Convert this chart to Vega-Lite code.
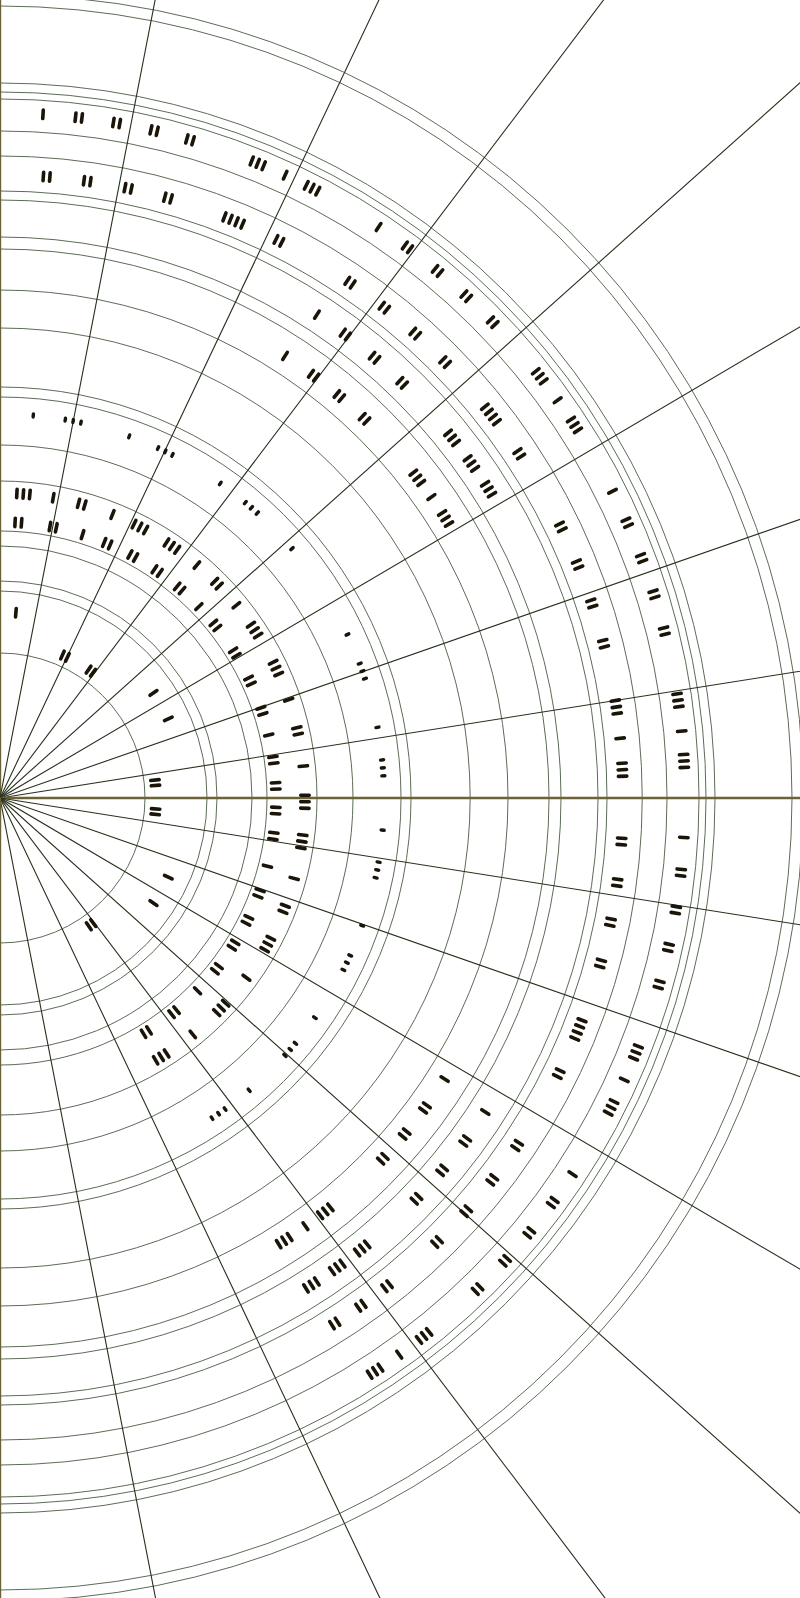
{
  "$schema": "https://vega.github.io/schema/vega-lite/v6.json",
  "description": "Radial tally chart: concentric rings, spokes and tally marks",
  "width": 800,
  "height": 1598,
  "autosize": {"type": "none"},
  "padding": 0,
  "background": "white",
  "config": {"view": {"stroke": null}},
  "datasets": {
    "rings": [
      {"r": 145}, {"r": 207}, {"r": 217}, {"r": 252}, {"r": 267}, {"r": 317}, {"r": 353},
      {"r": 401}, {"r": 411}, {"r": 470}, {"r": 508}, {"r": 549}, {"r": 561}, {"r": 598},
      {"r": 607}, {"r": 642}, {"r": 667}, {"r": 699}, {"r": 706}, {"r": 715}, {"r": 792}, {"r": 803}
    ],
    "spokes": [
      {"a": 0}, {"a": 11}, {"a": 25.4}, {"a": 37.1}, {"a": 48.2}, {"a": 59.5}, {"a": 70.8}, {"a": 81},
      {"a": 90}, {"a": 99}, {"a": 109.2}, {"a": 120.5}, {"a": 131.8}, {"a": 142.9}, {"a": 154.6},
      {"a": 169}, {"a": 180}
    ],
    "tally": [
      {"a": 3.6, "r": 685}, {"a": 6.33, "r": 685}, {"a": 6.87, "r": 685}, {"a": 9.53, "r": 685}, {"a": 10.07, "r": 685},
      {"a": 12.73, "r": 685}, {"a": 13.27, "r": 685}, {"a": 15.83, "r": 685}, {"a": 16.37, "r": 685},
      {"a": 21.56, "r": 685}, {"a": 22.1, "r": 685}, {"a": 22.64, "r": 685}, {"a": 24.6, "r": 685},
      {"a": 26.56, "r": 685}, {"a": 27.1, "r": 685}, {"a": 27.64, "r": 685}, {"a": 33.55, "r": 685},
      {"a": 36.23, "r": 685}, {"a": 36.77, "r": 685}, {"a": 39.43, "r": 685}, {"a": 39.97, "r": 685},
      {"a": 42.63, "r": 685}, {"a": 43.17, "r": 685}, {"a": 45.73, "r": 685}, {"a": 46.27, "r": 685},
      {"a": 51.46, "r": 685}, {"a": 52, "r": 685}, {"a": 52.54, "r": 685}, {"a": 54.5, "r": 685},
      {"a": 56.46, "r": 685}, {"a": 57, "r": 685}, {"a": 57.54, "r": 685}, {"a": 63.4, "r": 685},
      {"a": 66.03, "r": 685}, {"a": 66.57, "r": 685}, {"a": 69.23, "r": 685}, {"a": 69.77, "r": 685},
      {"a": 72.43, "r": 685}, {"a": 72.97, "r": 685}, {"a": 75.63, "r": 685}, {"a": 76.17, "r": 685},
      {"a": 81.26, "r": 685}, {"a": 81.8, "r": 685}, {"a": 82.34, "r": 685}, {"a": 84.4, "r": 685},
      {"a": 86.36, "r": 685}, {"a": 86.9, "r": 685}, {"a": 87.44, "r": 685}, {"a": 93.3, "r": 685},
      {"a": 95.98, "r": 685}, {"a": 96.52, "r": 685}, {"a": 99.13, "r": 685}, {"a": 99.67, "r": 685},
      {"a": 102.33, "r": 685}, {"a": 102.87, "r": 685}, {"a": 105.53, "r": 685}, {"a": 106.07, "r": 685},
      {"a": 111.26, "r": 685}, {"a": 111.8, "r": 685}, {"a": 112.34, "r": 685}, {"a": 114.3, "r": 685},
      {"a": 116.31, "r": 685}, {"a": 116.85, "r": 685}, {"a": 117.39, "r": 685}, {"a": 123.3, "r": 685},
      {"a": 125.93, "r": 685}, {"a": 126.47, "r": 685}, {"a": 129.13, "r": 685}, {"a": 129.67, "r": 685},
      {"a": 132.23, "r": 685}, {"a": 132.77, "r": 685}, {"a": 135.53, "r": 685}, {"a": 136.07, "r": 685},
      {"a": 141.21, "r": 685}, {"a": 141.75, "r": 685}, {"a": 142.29, "r": 685}, {"a": 144.35, "r": 685},
      {"a": 146.26, "r": 685}, {"a": 146.8, "r": 685}, {"a": 147.34, "r": 685},

      {"a": 3.99, "r": 623}, {"a": 4.59, "r": 623}, {"a": 7.75, "r": 623}, {"a": 8.35, "r": 623},
      {"a": 11.57, "r": 623}, {"a": 12.17, "r": 623}, {"a": 15.34, "r": 623}, {"a": 15.94, "r": 623},
      {"a": 21.12, "r": 623}, {"a": 21.72, "r": 623}, {"a": 22.32, "r": 623}, {"a": 22.92, "r": 623},
      {"a": 26.29, "r": 623}, {"a": 26.89, "r": 623}, {"a": 33.88, "r": 623}, {"a": 34.48, "r": 623},
      {"a": 37.79, "r": 623}, {"a": 38.39, "r": 623}, {"a": 41.5, "r": 623}, {"a": 42.1, "r": 623},
      {"a": 45.3, "r": 623}, {"a": 45.9, "r": 623}, {"a": 51.1, "r": 623}, {"a": 51.7, "r": 623},
      {"a": 52.3, "r": 623}, {"a": 52.9, "r": 623}, {"a": 56.16, "r": 623}, {"a": 56.76, "r": 623},
      {"a": 63.9, "r": 623}, {"a": 64.5, "r": 623}, {"a": 67.69, "r": 623}, {"a": 68.29, "r": 623},
      {"a": 71.5, "r": 623}, {"a": 72.1, "r": 623}, {"a": 75.36, "r": 623}, {"a": 75.96, "r": 623},
      {"a": 81, "r": 623}, {"a": 81.6, "r": 623}, {"a": 82.2, "r": 623}, {"a": 84.5, "r": 623},
      {"a": 86.8, "r": 623}, {"a": 87.4, "r": 623}, {"a": 88, "r": 623}, {"a": 93.7, "r": 623},
      {"a": 94.3, "r": 623}, {"a": 97.5, "r": 623}, {"a": 98.1, "r": 623}, {"a": 101.2, "r": 623},
      {"a": 101.8, "r": 623}, {"a": 105.1, "r": 623}, {"a": 105.7, "r": 623}, {"a": 110.9, "r": 623},
      {"a": 111.5, "r": 623}, {"a": 112.1, "r": 623}, {"a": 112.7, "r": 623}, {"a": 115.95, "r": 623},
      {"a": 116.55, "r": 623}, {"a": 123.6, "r": 623}, {"a": 124.2, "r": 623}, {"a": 127.5, "r": 623},
      {"a": 128.1, "r": 623}, {"a": 131.25, "r": 623}, {"a": 131.85, "r": 623}, {"a": 135.15, "r": 623},
      {"a": 135.75, "r": 623}, {"a": 141.3, "r": 623}, {"a": 141.9, "r": 623}, {"a": 144.3, "r": 623},
      {"a": 144.9, "r": 623}, {"a": 147.2, "r": 623}, {"a": 147.8, "r": 623},

      {"a": 33.25, "r": 578}, {"a": 36.37, "r": 578}, {"a": 37.01, "r": 578}, {"a": 40.07, "r": 578},
      {"a": 40.71, "r": 578}, {"a": 43.77, "r": 578}, {"a": 44.41, "r": 578}, {"a": 50.82, "r": 578},
      {"a": 51.46, "r": 578}, {"a": 52.1, "r": 578}, {"a": 54, "r": 578}, {"a": 54.64, "r": 578},
      {"a": 55.28, "r": 578}, {"a": 57.06, "r": 578}, {"a": 57.7, "r": 578}, {"a": 58.34, "r": 578},
      {"a": 122.9, "r": 578}, {"a": 126.08, "r": 578}, {"a": 126.72, "r": 578}, {"a": 129.78, "r": 578},
      {"a": 130.42, "r": 578}, {"a": 133.58, "r": 578}, {"a": 134.22, "r": 578}, {"a": 140.56, "r": 578},
      {"a": 141.2, "r": 578}, {"a": 141.84, "r": 578}, {"a": 143.66, "r": 578}, {"a": 144.3, "r": 578},
      {"a": 144.94, "r": 578}, {"a": 146.76, "r": 578}, {"a": 147.4, "r": 578}, {"a": 148.04, "r": 578},

      {"a": 32.81, "r": 526}, {"a": 36.24, "r": 526}, {"a": 36.94, "r": 526}, {"a": 39.82, "r": 526},
      {"a": 40.52, "r": 526}, {"a": 43.52, "r": 526}, {"a": 44.22, "r": 526}, {"a": 51.79, "r": 526},
      {"a": 52.5, "r": 526}, {"a": 53.21, "r": 526}, {"a": 55.1, "r": 526}, {"a": 57.19, "r": 526},
      {"a": 57.9, "r": 526}, {"a": 58.61, "r": 526}, {"a": 122.3, "r": 526}, {"a": 125.75, "r": 526},
      {"a": 126.45, "r": 526}, {"a": 129.35, "r": 526}, {"a": 130.05, "r": 526}, {"a": 132.95, "r": 526},
      {"a": 133.65, "r": 526}, {"a": 141.09, "r": 526}, {"a": 141.8, "r": 526}, {"a": 142.51, "r": 526},
      {"a": 144.5, "r": 526}, {"a": 146.59, "r": 526}, {"a": 147.3, "r": 526}, {"a": 148.01, "r": 526},

      {"a": 3.17, "r": 305}, {"a": 4.39, "r": 305}, {"a": 5.61, "r": 305}, {"a": 10.05, "r": 305},
      {"a": 14.92, "r": 305}, {"a": 16.14, "r": 305}, {"a": 21.64, "r": 305}, {"a": 26.08, "r": 305},
      {"a": 27.3, "r": 305}, {"a": 28.52, "r": 305}, {"a": 33.08, "r": 305}, {"a": 34.3, "r": 305},
      {"a": 35.52, "r": 305}, {"a": 40.2, "r": 305}, {"a": 44.74, "r": 305}, {"a": 45.96, "r": 305},
      {"a": 50.8, "r": 305}, {"a": 55.38, "r": 305}, {"a": 56.6, "r": 305}, {"a": 57.82, "r": 305},
      {"a": 63.58, "r": 305}, {"a": 64.8, "r": 305}, {"a": 66.02, "r": 305}, {"a": 71.2, "r": 305},
      {"a": 76.69, "r": 305}, {"a": 77.91, "r": 305}, {"a": 84, "r": 305}, {"a": 89.48, "r": 305},
      {"a": 90.7, "r": 305}, {"a": 91.92, "r": 305}, {"a": 96.98, "r": 305}, {"a": 98.2, "r": 305},
      {"a": 99.42, "r": 305}, {"a": 105.3, "r": 305}, {"a": 110.69, "r": 305}, {"a": 111.91, "r": 305},
      {"a": 117.38, "r": 305}, {"a": 118.6, "r": 305}, {"a": 119.82, "r": 305}, {"a": 126.1, "r": 305},
      {"a": 132.28, "r": 305}, {"a": 133.5, "r": 305}, {"a": 134.72, "r": 305}, {"a": 140.8, "r": 305},
      {"a": 146.88, "r": 305}, {"a": 148.1, "r": 305}, {"a": 149.32, "r": 305},

      {"a": 3.13, "r": 276}, {"a": 4.47, "r": 276}, {"a": 10.43, "r": 276}, {"a": 11.77, "r": 276},
      {"a": 17.4, "r": 276}, {"a": 22.18, "r": 276}, {"a": 23.52, "r": 276}, {"a": 28.08, "r": 276},
      {"a": 29.42, "r": 276}, {"a": 34.03, "r": 276}, {"a": 35.37, "r": 276}, {"a": 39.93, "r": 276},
      {"a": 41.27, "r": 276}, {"a": 46.1, "r": 276}, {"a": 50.63, "r": 276}, {"a": 51.97, "r": 276},
      {"a": 57.63, "r": 276}, {"a": 58.97, "r": 276}, {"a": 64.23, "r": 276}, {"a": 65.57, "r": 276},
      {"a": 70.93, "r": 276}, {"a": 72.27, "r": 276}, {"a": 76.8, "r": 276}, {"a": 81.43, "r": 276},
      {"a": 82.77, "r": 276}, {"a": 86.83, "r": 276}, {"a": 88.17, "r": 276}, {"a": 91.93, "r": 276},
      {"a": 93.27, "r": 276}, {"a": 97.23, "r": 276}, {"a": 98.57, "r": 276}, {"a": 104.3, "r": 276},
      {"a": 109.53, "r": 276}, {"a": 110.87, "r": 276}, {"a": 115.63, "r": 276}, {"a": 116.97, "r": 276},
      {"a": 121.53, "r": 276}, {"a": 122.87, "r": 276}, {"a": 127.53, "r": 276}, {"a": 128.87, "r": 276},
      {"a": 134.3, "r": 276}, {"a": 140.23, "r": 276}, {"a": 141.57, "r": 276}, {"a": 147.33, "r": 276},
      {"a": 148.67, "r": 276},

      {"a": 4.9, "r": 186}, {"a": 55.6, "r": 186}, {"a": 64.8, "r": 186}, {"a": 115.2, "r": 186}, {"a": 124.4, "r": 186},

      {"a": 23.6, "r": 156}, {"a": 25.6, "r": 156}, {"a": 34.6, "r": 156}, {"a": 36.6, "r": 156},
      {"a": 83.4, "r": 156}, {"a": 85.4, "r": 156}, {"a": 94, "r": 156}, {"a": 96, "r": 156},
      {"a": 143.3, "r": 156}, {"a": 145.3, "r": 156}
    ],
    "dots": [
      {"a": 4.97, "r": 384}, {"a": 9.79, "r": 384}, {"a": 10.98, "r": 384}, {"a": 12.17, "r": 384},
      {"a": 19.66, "r": 384}, {"a": 24.31, "r": 384}, {"a": 25.5, "r": 384}, {"a": 26.69, "r": 384},
      {"a": 35, "r": 384}, {"a": 39.71, "r": 384}, {"a": 40.9, "r": 384}, {"a": 42.09, "r": 384},
      {"a": 49.5, "r": 384}, {"a": 64.8, "r": 384}, {"a": 69.51, "r": 384}, {"a": 70.7, "r": 384},
      {"a": 71.89, "r": 384}, {"a": 79.4, "r": 384}, {"a": 84.31, "r": 384}, {"a": 85.5, "r": 384},
      {"a": 86.69, "r": 384}, {"a": 94.8, "r": 384}, {"a": 99.61, "r": 384}, {"a": 100.8, "r": 384},
      {"a": 101.99, "r": 384}, {"a": 109.4, "r": 384}, {"a": 114.21, "r": 384}, {"a": 115.4, "r": 384},
      {"a": 116.59, "r": 384}, {"a": 124.9, "r": 384}, {"a": 129.71, "r": 384}, {"a": 130.9, "r": 384},
      {"a": 132.09, "r": 384}, {"a": 139.55, "r": 384}, {"a": 144.11, "r": 384}, {"a": 145.3, "r": 384},
      {"a": 146.49, "r": 384}
    ]
  },
  "encoding": {
    "x": {"datum": 0, "type": "quantitative", "scale": {"domain": [0, 800]}, "axis": null},
    "y": {"datum": 0, "type": "quantitative", "scale": {"domain": [-800, 798]}, "axis": null}
  },
  "layer": [
    {
      "data": {"name": "rings"},
      "mark": {"type": "arc", "filled": false, "theta": 0, "theta2": 6.2832, "stroke": "#5c6c56", "strokeWidth": 1},
      "encoding": {
        "radius": {"field": "r", "type": "quantitative", "stack": null, "scale": {"type": "linear", "domain": [0, 800], "range": [0, 800]}}
      }
    },
    {
      "data": {"name": "spokes"},
      "mark": {"type": "arc", "filled": false},
      "encoding": {
        "theta": {"field": "a", "type": "quantitative", "stack": null, "scale": {"domain": [0, 360], "range": [0, 6.283185307179586]}},
        "theta2": {"field": "a"},
        "radius": {"datum": 1500},
        "radius2": {"datum": 0},
        "stroke": {"condition": {"test": "datum.a % 90 === 0", "value": "#6b6338"}, "value": "#27301c"},
        "strokeWidth": {"condition": {"test": "datum.a % 90 === 0", "value": 2.4}, "value": 1.1}
      }
    },
    {
      "data": {"name": "tally"},
      "mark": {"type": "arc", "filled": false, "stroke": "#1b1409", "strokeWidth": 3.6, "strokeJoin": "round", "strokeCap": "round", "radiusOffset": 4.2, "radius2Offset": -4.2},
      "encoding": {
        "theta": {"field": "a", "type": "quantitative", "stack": null},
        "theta2": {"field": "a"},
        "radius": {"field": "r", "type": "quantitative", "stack": null},
        "radius2": {"field": "r"}
      }
    },
    {
      "data": {"name": "dots"},
      "mark": {"type": "arc", "filled": false, "stroke": "#1b1409", "strokeWidth": 3.4, "strokeJoin": "round", "strokeCap": "round", "radiusOffset": 1.5, "radius2Offset": -1.5},
      "encoding": {
        "theta": {"field": "a", "type": "quantitative", "stack": null},
        "theta2": {"field": "a"},
        "radius": {"field": "r", "type": "quantitative", "stack": null},
        "radius2": {"field": "r"}
      }
    }
  ]
}
